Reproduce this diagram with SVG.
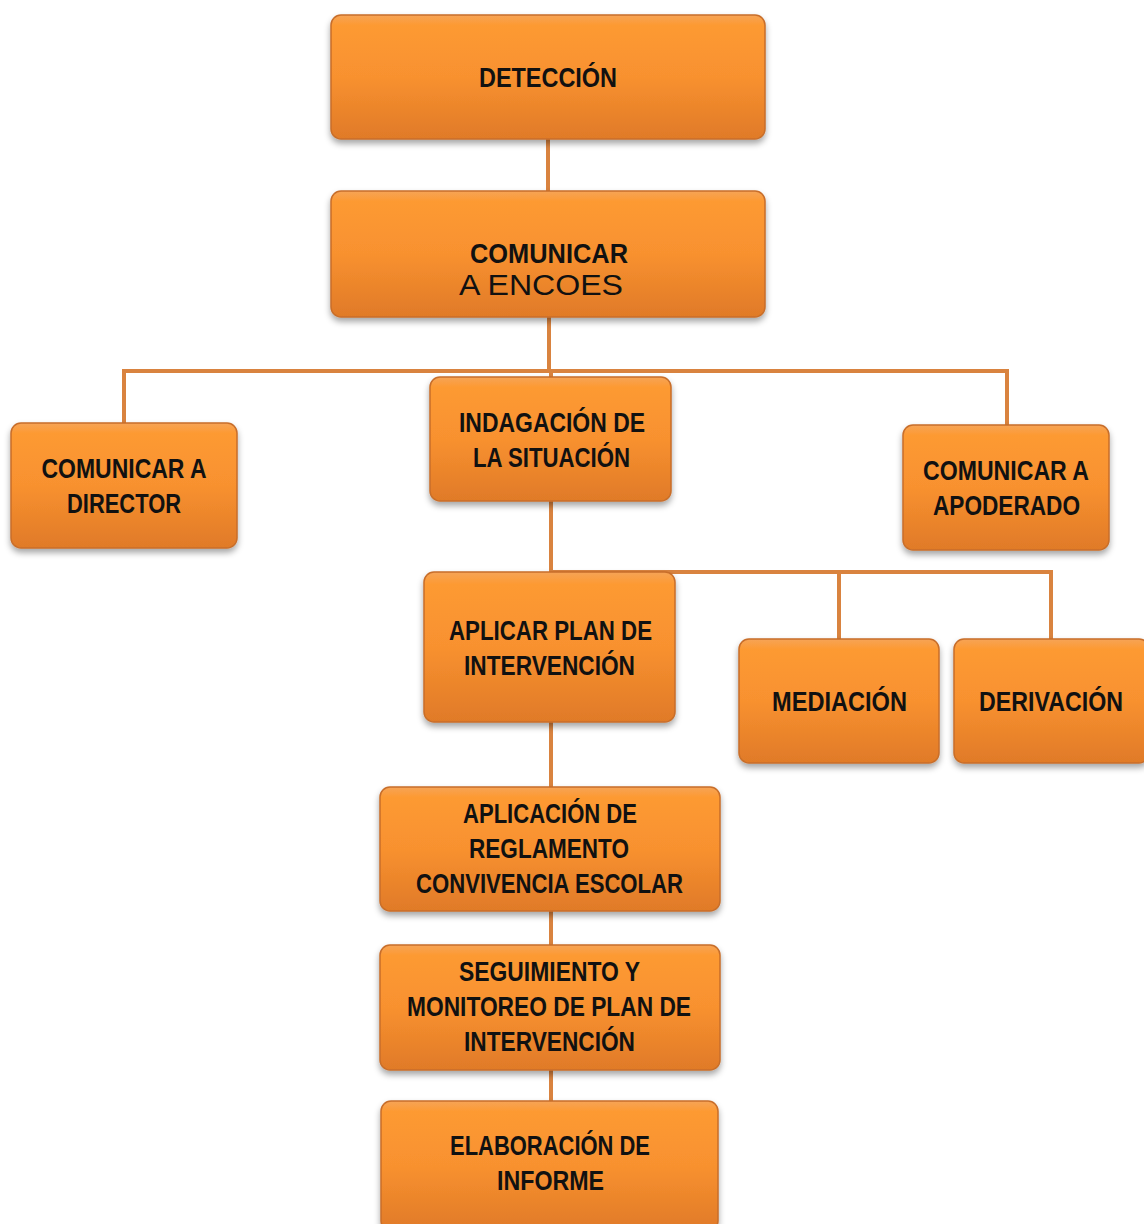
<svg xmlns="http://www.w3.org/2000/svg" width="1144" height="1224" viewBox="0 0 1144 1224">
<defs>
<linearGradient id="g" x1="0" y1="0" x2="0" y2="1">
<stop offset="0" stop-color="#F6A457"/>
<stop offset="0.08" stop-color="#FD9A33"/>
<stop offset="0.5" stop-color="#F8912F"/>
<stop offset="1" stop-color="#E07A28"/>
</linearGradient>
<filter id="sh" x="-10%" y="-10%" width="120%" height="130%">
<feDropShadow dx="0" dy="4" stdDeviation="3" flood-color="#000" flood-opacity="0.35"/>
</filter>
<style>
.box{fill:url(#g);stroke:#C86E2A;stroke-width:1.5;filter:url(#sh)}
.t{font-family:"Liberation Sans Narrow","Liberation Sans",sans-serif;font-weight:bold;font-size:27px;fill:#111;text-anchor:middle}
.a{font-family:"Liberation Sans",Arial,sans-serif;font-size:30px;fill:#111}
.c{fill:none;stroke:#D9833F;stroke-width:4}
</style>
</defs>
<g id="connectors">
<path class="c" d="M548 139V191"/>
<path class="c" d="M549 317V371"/>
<path class="c" d="M124 423V371H1007V425"/>
<path class="c" d="M551 371V378"/>
<path class="c" d="M551 501V572H1051V639"/>
<path class="c" d="M839 572V639"/>
<path class="c" d="M551 722V787"/>
<path class="c" d="M551 911V945"/>
<path class="c" d="M551 1070V1101"/>
</g>
<g id="n-deteccion"><rect class="box" x="331" y="15" width="434" height="124" rx="10"/><text class="t" x="548" y="87" textLength="138" lengthAdjust="spacingAndGlyphs">DETECCIÓN</text></g>
<g id="n-encoes"><rect class="box" x="331" y="191" width="434" height="126" rx="10"/><text class="t" x="549" y="263" textLength="158" lengthAdjust="spacingAndGlyphs">COMUNICAR</text><text class="a" x="459" y="295" textLength="164" lengthAdjust="spacingAndGlyphs">A ENCOES</text></g>
<g id="n-director"><rect class="box" x="11" y="423" width="226" height="125" rx="10"/><text class="t" x="124" y="478" textLength="165" lengthAdjust="spacingAndGlyphs">COMUNICAR A</text><text class="t" x="124" y="513" textLength="114" lengthAdjust="spacingAndGlyphs">DIRECTOR</text></g>
<g id="n-indagacion"><rect class="box" x="430" y="377" width="241" height="124" rx="10"/><text class="t" x="552" y="432" textLength="186" lengthAdjust="spacingAndGlyphs">INDAGACIÓN DE</text><text class="t" x="551.5" y="467" textLength="157" lengthAdjust="spacingAndGlyphs">LA SITUACIÓN</text></g>
<g id="n-apoderado"><rect class="box" x="903" y="425" width="206" height="125" rx="10"/><text class="t" x="1006" y="480" textLength="166" lengthAdjust="spacingAndGlyphs">COMUNICAR A</text><text class="t" x="1006.5" y="515" textLength="147" lengthAdjust="spacingAndGlyphs">APODERADO</text></g>
<g id="n-aplicar"><rect class="box" x="424" y="572" width="251" height="150" rx="10"/><text class="t" x="550.5" y="640" textLength="203" lengthAdjust="spacingAndGlyphs">APLICAR  PLAN DE</text><text class="t" x="549.5" y="675" textLength="171" lengthAdjust="spacingAndGlyphs">INTERVENCIÓN</text></g>
<g id="n-mediacion"><rect class="box" x="739" y="639" width="200" height="124" rx="10"/><text class="t" x="839.5" y="711" textLength="135" lengthAdjust="spacingAndGlyphs">MEDIACIÓN</text></g>
<g id="n-derivacion"><rect class="box" x="954" y="639" width="195" height="124" rx="10"/><text class="t" x="1051" y="711" textLength="144" lengthAdjust="spacingAndGlyphs">DERIVACIÓN</text></g>
<g id="n-reglamento"><rect class="box" x="380" y="787" width="340" height="124" rx="10"/><text class="t" x="550" y="823" textLength="174" lengthAdjust="spacingAndGlyphs">APLICACIÓN DE</text><text class="t" x="549" y="858" textLength="160" lengthAdjust="spacingAndGlyphs">REGLAMENTO</text><text class="t" x="549.5" y="893" textLength="267" lengthAdjust="spacingAndGlyphs">CONVIVENCIA ESCOLAR</text></g>
<g id="n-seguimiento"><rect class="box" x="380" y="945" width="340" height="125" rx="10"/><text class="t" x="549.5" y="981" textLength="181" lengthAdjust="spacingAndGlyphs">SEGUIMIENTO Y</text><text class="t" x="549" y="1016" textLength="284" lengthAdjust="spacingAndGlyphs">MONITOREO DE PLAN DE</text><text class="t" x="549.5" y="1051" textLength="171" lengthAdjust="spacingAndGlyphs">INTERVENCIÓN</text></g>
<g id="n-informe"><rect class="box" x="381" y="1101" width="337" height="130" rx="10"/><text class="t" x="550" y="1155" textLength="200" lengthAdjust="spacingAndGlyphs">ELABORACIÓN DE</text><text class="t" x="550.5" y="1190" textLength="107" lengthAdjust="spacingAndGlyphs">INFORME</text></g>
</svg>
